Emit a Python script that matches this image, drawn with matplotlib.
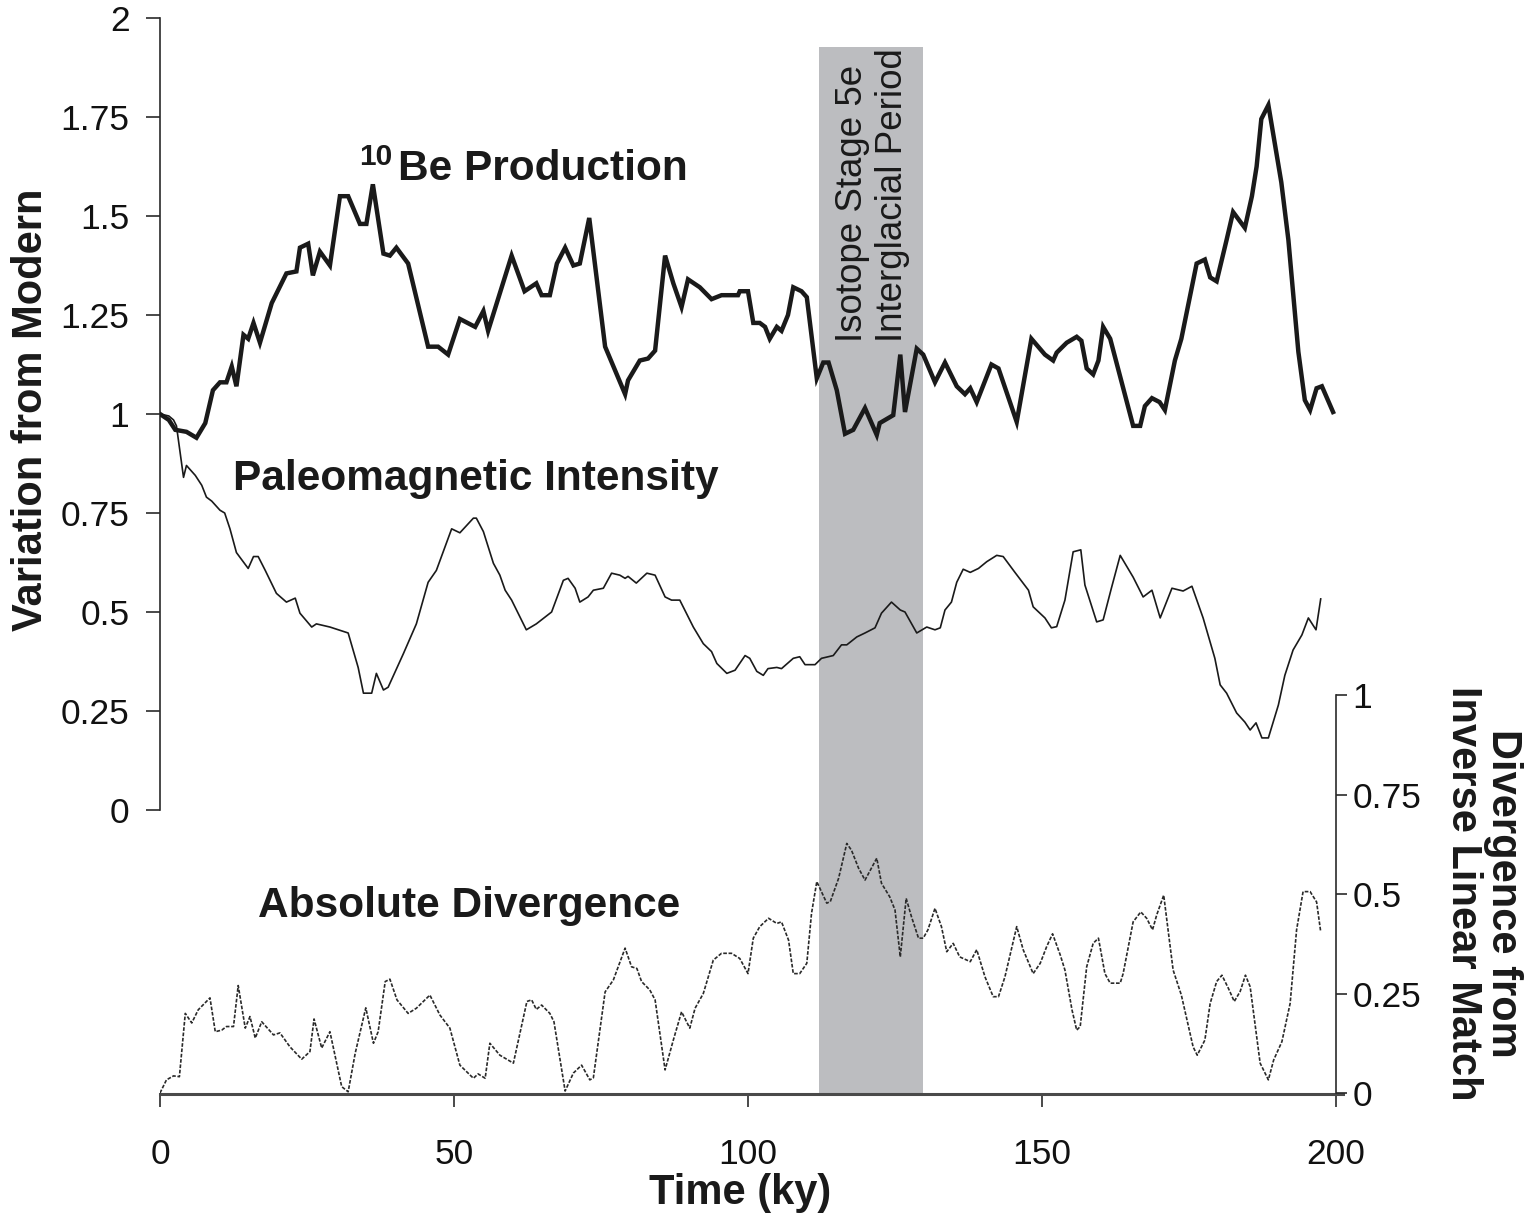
import matplotlib
matplotlib.use("Agg")
import matplotlib.pyplot as plt

plt.rcParams['font.family'] = ['Liberation Sans', 'DejaVu Sans']

# ---------------- data ----------------
be_time = [0, 1.5, 2.6, 4.5, 6.2, 7.7, 9.0, 10.2, 11.3, 12.2, 13.0, 14.2, 15.0, 15.9, 17.0,
           19.0, 21.5, 23.2, 23.8, 25.2, 26.0, 27.2, 28.9, 30.6, 32.0, 34.0, 35.1, 36.2,
           38.0, 39.1, 40.2, 42.2, 45.6, 47.3, 49.0, 51.0, 53.6, 55.0, 55.8, 59.8, 62.0,
           64.0, 64.9, 66.3, 67.5, 68.9, 70.3, 71.4, 73.0, 75.7, 79.1, 79.6, 81.6, 83.0,
           84.2, 85.9, 87.3, 88.7, 89.8, 91.8, 93.8, 95.5, 98.3, 98.6, 100.0, 100.9, 102.0,
           102.9, 103.7, 104.9, 105.7, 106.8, 107.7, 109.1, 110.0, 111.7, 112.8, 113.7,
           115.1, 116.5, 117.9, 119.9, 121.9, 122.4, 124.7, 125.9, 126.7, 128.7, 129.8,
           131.8, 133.5, 135.5, 136.9, 137.8, 138.9, 141.4, 142.6, 145.7, 148.2, 150.5,
           151.9, 152.5, 154.2, 155.9, 156.7, 157.6, 158.7, 159.6, 160.4, 161.6, 165.5,
           166.7, 167.5, 168.7, 170.0, 170.9, 172.6, 173.7, 176.3, 177.7, 178.6, 179.7,
           181.4, 182.5, 184.5, 185.7, 186.5, 187.3, 188.5, 190.7, 191.9, 193.6, 194.7,
           195.6, 196.7, 197.6, 199.5]
be_value = [1.00, 0.985, 0.96, 0.955, 0.94, 0.977, 1.06, 1.08, 1.08, 1.12, 1.07, 1.20, 1.19,
            1.23, 1.18, 1.28, 1.355, 1.36, 1.42, 1.43, 1.35, 1.41, 1.375, 1.55, 1.55, 1.48,
            1.48, 1.58, 1.405, 1.40, 1.42, 1.38, 1.17, 1.17, 1.15, 1.24, 1.22, 1.26, 1.21,
            1.40, 1.31, 1.33, 1.30, 1.30, 1.38, 1.42, 1.375, 1.38, 1.495, 1.17, 1.05, 1.085,
            1.135, 1.14, 1.16, 1.40, 1.33, 1.27, 1.34, 1.32, 1.29, 1.30, 1.30, 1.31, 1.31,
            1.23, 1.23, 1.22, 1.19, 1.22, 1.21, 1.25, 1.32, 1.31, 1.295, 1.09, 1.13, 1.13,
            1.06, 0.95, 0.96, 1.015, 0.947, 0.977, 0.997, 1.15, 1.005, 1.165, 1.15, 1.08,
            1.13, 1.07, 1.05, 1.065, 1.03, 1.125, 1.115, 0.98, 1.19, 1.15, 1.135, 1.155,
            1.18, 1.195, 1.185, 1.115, 1.10, 1.135, 1.22, 1.19, 0.97, 0.97, 1.02, 1.04,
            1.03, 1.01, 1.135, 1.19, 1.38, 1.39, 1.345, 1.335, 1.44, 1.51, 1.47, 1.55,
            1.625, 1.745, 1.78, 1.585, 1.44, 1.157, 1.035, 1.01, 1.065, 1.07, 1.005]

paleo_time = [0, 1.5, 2.3, 2.8, 4.0, 4.5, 6.0, 7.1, 7.9, 8.8, 10.2, 11.0, 11.9, 13.0, 15.0,
              15.9, 16.7, 17.9, 19.8, 21.5, 23.0, 23.8, 25.8, 26.6, 28.9, 32.0, 33.7, 34.6,
              36.0, 36.8, 38.0, 38.8, 41.4, 43.6, 45.6, 47.0, 49.6, 51.0, 53.3, 53.8, 55.0,
              56.7, 57.8, 58.7, 59.8, 62.3, 64.0, 66.6, 68.6, 69.4, 70.6, 71.4, 72.8, 73.7,
              75.4, 76.8, 78.2, 79.1, 79.6, 81.0, 82.8, 84.2, 85.9, 87.0, 88.4, 90.7, 92.4,
              93.8, 94.7, 96.4, 97.8, 99.5, 100.3, 101.5, 102.6, 103.4, 104.9, 105.7, 107.7,
              108.8, 109.7, 111.4, 112.5, 114.5, 115.9, 116.8, 118.5, 119.9, 121.6, 122.7,
              124.4, 125.9, 126.7, 128.7, 130.4, 131.8, 132.7, 133.5, 134.6, 135.5, 136.6,
              137.8, 139.2, 140.6, 142.3, 143.4, 145.4, 147.7, 148.5, 150.5, 151.6, 152.5,
              153.9, 155.3, 156.6, 157.3, 159.3, 160.4, 161.8, 163.3, 165.5, 167.2, 168.7,
              170.1, 172.1, 174.0, 175.5, 177.4, 179.4, 180.3, 181.4, 183.1, 184.5, 185.4,
              186.4, 187.4, 188.5, 190.2, 191.3, 192.7, 194.2, 195.3, 196.6, 197.4]
paleo_value = [1.0, 0.995, 0.985, 0.97, 0.84, 0.87, 0.845, 0.82, 0.79, 0.78, 0.757, 0.75,
               0.71, 0.65, 0.61, 0.64, 0.64, 0.605, 0.547, 0.525, 0.535, 0.497, 0.462, 0.47,
               0.462, 0.447, 0.36, 0.295, 0.295, 0.345, 0.303, 0.31, 0.395, 0.47, 0.575,
               0.605, 0.71, 0.70, 0.737, 0.737, 0.703, 0.623, 0.593, 0.555, 0.53, 0.455,
               0.47, 0.50, 0.58, 0.585, 0.56, 0.525, 0.538, 0.555, 0.56, 0.598, 0.593, 0.585,
               0.59, 0.573, 0.598, 0.593, 0.538, 0.53, 0.53, 0.462, 0.42, 0.40, 0.37, 0.345,
               0.353, 0.39, 0.383, 0.35, 0.34, 0.357, 0.36, 0.357, 0.383, 0.387, 0.367, 0.367,
               0.383, 0.39, 0.417, 0.417, 0.437, 0.447, 0.46, 0.497, 0.525, 0.505, 0.50,
               0.447, 0.462, 0.455, 0.46, 0.505, 0.525, 0.575, 0.608, 0.60, 0.61, 0.627,
               0.643, 0.64, 0.60, 0.555, 0.513, 0.485, 0.46, 0.463, 0.53, 0.652, 0.657, 0.568,
               0.475, 0.48, 0.56, 0.643, 0.588, 0.538, 0.555, 0.485, 0.56, 0.553, 0.565,
               0.485, 0.383, 0.316, 0.295, 0.245, 0.222, 0.202, 0.22, 0.182, 0.182, 0.265,
               0.34, 0.404, 0.442, 0.485, 0.455, 0.533]

div_time = [0, 1.1, 2.3, 3.3, 4.3, 5.4, 6.5, 8.5, 9.4, 10.5, 11.3, 12.5, 13.3, 14.5, 15.3,
            16.2, 17.3, 19.3, 20.4, 22.1, 24.1, 25.5, 26.2, 27.5, 28.9, 30.9, 32.0, 33.2,
            35.0, 36.3, 37.1, 38.3, 39.1, 40.3, 42.2, 43.6, 45.9, 47.6, 49.3, 51.0, 53.3,
            54.1, 55.3, 56.1, 57.8, 60.1, 62.4, 63.2, 64.0, 64.9, 66.3, 67.0, 68.9, 70.3,
            71.7, 73.1, 73.7, 75.7, 77.1, 79.1, 80.2, 81.1, 81.9, 83.3, 84.2, 85.9, 87.3,
            88.7, 90.1, 91.0, 92.4, 94.1, 95.5, 97.2, 98.6, 100.0, 100.9, 102.0, 103.5,
            104.9, 105.7, 106.9, 107.7, 108.8, 110.0, 110.8, 111.7, 113.4, 114.0, 115.4,
            116.8, 117.6, 118.8, 119.9, 121.9, 122.7, 124.1, 125.0, 125.9, 126.9, 127.8,
            129.0, 129.8, 130.6, 131.8, 132.9, 133.8, 134.9, 136.0, 137.8, 138.9, 140.3,
            141.7, 142.6, 143.7, 145.7, 146.8, 148.5, 149.7, 150.8, 151.8, 153.1, 153.9,
            155.1, 155.9, 156.5, 157.6, 158.7, 159.6, 160.7, 161.6, 163.3, 163.8, 165.5,
            166.8, 167.8, 168.8, 169.5, 170.7, 172.3, 173.7, 175.7, 176.4, 177.7, 178.6,
            179.7, 180.6, 181.7, 182.7, 183.7, 184.6, 185.4, 187.1, 188.5, 189.4, 190.8,
            192.2, 193.3, 194.4, 195.6, 196.7, 197.4]
div_value = [0.0, 0.033, 0.043, 0.041, 0.20, 0.176, 0.209, 0.239, 0.154, 0.158, 0.167, 0.167,
             0.27, 0.163, 0.192, 0.138, 0.179, 0.146, 0.151, 0.116, 0.085, 0.104, 0.186,
             0.113, 0.154, 0.016, 0.003, 0.10, 0.214, 0.125, 0.154, 0.28, 0.286, 0.234, 0.20,
             0.213, 0.246, 0.196, 0.163, 0.07, 0.037, 0.048, 0.037, 0.125, 0.095, 0.075,
             0.23, 0.234, 0.21, 0.221, 0.20, 0.179, 0.005, 0.05, 0.07, 0.033, 0.038, 0.254,
             0.284, 0.364, 0.317, 0.313, 0.28, 0.259, 0.234, 0.058, 0.133, 0.204, 0.163,
             0.213, 0.25, 0.334, 0.351, 0.351, 0.338, 0.30, 0.389, 0.418, 0.439, 0.426, 0.43,
             0.384, 0.30, 0.30, 0.326, 0.451, 0.531, 0.477, 0.481, 0.539, 0.627, 0.61, 0.565,
             0.535, 0.59, 0.527, 0.493, 0.46, 0.342, 0.489, 0.443, 0.389, 0.389, 0.41, 0.464,
             0.418, 0.355, 0.376, 0.342, 0.33, 0.36, 0.292, 0.242, 0.242, 0.292, 0.418, 0.36,
             0.30, 0.326, 0.368, 0.40, 0.347, 0.309, 0.209, 0.158, 0.167, 0.317, 0.376,
             0.389, 0.30, 0.276, 0.276, 0.30, 0.43, 0.455, 0.439, 0.41, 0.447, 0.497, 0.309,
             0.246, 0.116, 0.095, 0.133, 0.225, 0.28, 0.296, 0.263, 0.23, 0.255, 0.296,
             0.267, 0.075, 0.033, 0.083, 0.129, 0.225, 0.41, 0.506, 0.506, 0.48, 0.405]

band_start, band_end, band_top = 112.0, 129.8, 1.927

x_ticks = [0, 50, 100, 150, 200]
x_ticklabels = ["0", "50", "100", "150", "200"]
left_ticks = [0, 0.25, 0.5, 0.75, 1, 1.25, 1.5, 1.75, 2]
left_ticklabels = ["0", "0.25", "0.5", "0.75", "1", "1.25", "1.5", "1.75", "2"]
right_ticks = [0, 0.25, 0.5, 0.75, 1]
right_ticklabels = ["0", "0.25", "0.5", "0.75", "1"]

# ---------------- figure ----------------
fig = plt.figure(figsize=(15.33, 12.17), dpi=100)
pos = [0.10437, 0.10107, 0.76712, 0.88414]
ax = fig.add_axes(pos)
ax.set_xlim(0, 200)
ax.set_ylim(-0.7172, 2.0)

ax2 = ax.twinx()
ax2.set_position(pos)
ax2.set_ylim(-0.0025, 2.701)

spine_col = '#2a2a2a'
# band
ymax_frac = (band_top - (-0.7172)) / (2.0 - (-0.7172))
ax.axvspan(band_start, band_end, ymin=0, ymax=ymax_frac, color='#bcbdc0', lw=0, zorder=0)

ax.plot(be_time, be_value, color='#1a1a1a', lw=3.2, solid_joinstyle='miter', zorder=3)
ax.plot(paleo_time, paleo_value, color='#1a1a1a', lw=1.2, zorder=3)
ax2.plot(div_time, div_value, color='#2a2a2a', lw=1.2, linestyle=(0, (2.2, 1.0)), zorder=3)

# spines
for s in ['top', 'right']:
    ax.spines[s].set_visible(False)
ax.spines['left'].set_bounds(0, 2)
ax.spines['left'].set_color(spine_col)
ax.spines['left'].set_linewidth(1.2)
ax.spines['bottom'].set_color('#4a4a4a')
ax.spines['bottom'].set_linewidth(2.2)
ax.spines['bottom'].set_bounds(0, 201.2)

for s in ['top', 'left', 'bottom']:
    ax2.spines[s].set_visible(False)
ax2.spines['right'].set_bounds(0, 1)
ax2.spines['right'].set_color(spine_col)
ax2.spines['right'].set_linewidth(1.2)

ax.set_xticks(x_ticks)
ax.set_xticklabels(x_ticklabels)
ax.set_yticks(left_ticks)
ax.set_yticklabels(left_ticklabels)
ax2.set_yticks(right_ticks)
ax2.set_yticklabels(right_ticklabels)

ax.tick_params(axis='x', direction='out', length=9.5, width=1.2, color=spine_col,
               pad=22, labelsize=25.5, labelcolor='#111111')
ax.tick_params(axis='y', direction='out', length=10, width=1.2, color=spine_col,
               pad=12, labelsize=25.5, labelcolor='#111111')
ax2.tick_params(axis='y', direction='out', length=8, width=1.2, color=spine_col,
                pad=4, labelsize=25.5, labelcolor='#111111')

# annotations
ax.text(33.8, 1.629, "10", fontsize=21.5, fontweight='bold', color='#1a1a1a', ha='left', va='baseline')
ax.text(40.5, 1.591, "Be Production", fontsize=30.5, fontweight='bold', color='#1a1a1a',
        ha='left', va='baseline')
ax.text(12.4, 0.808, "Paleomagnetic Intensity", fontsize=30.5, fontweight='bold',
        color='#1a1a1a', ha='left', va='baseline')
ax.text(16.7, -0.270, "Absolute Divergence", fontsize=30.5, fontweight='bold',
        color='#1a1a1a', ha='left', va='baseline')
ax.text(119.4, 1.182, "Isotope Stage 5e", fontsize=26.5, rotation=90, rotation_mode='anchor',
        ha='left', va='baseline', color='#1a1a1a', zorder=4)
ax.text(126.2, 1.182, "Interglacial Period", fontsize=26.5, rotation=90, rotation_mode='anchor',
        ha='left', va='baseline', color='#1a1a1a', zorder=4)

fig.text(31 / 1533, 1 - 410 / 1217, "Variation from Modern", rotation=90, fontsize=30,
         fontweight='bold', ha='center', va='center', color='#1a1a1a')
fig.text(1483 / 1533, 1 - 893 / 1217, "Divergence from\nInverse Linear Match", rotation=270,
         fontsize=30, fontweight='bold', ha='center', va='center', multialignment='center',
         linespacing=1.0, color='#1a1a1a')
fig.text(740 / 1533, 1 - 1193 / 1217, "Time (ky)", fontsize=30, fontweight='bold',
         ha='center', va='center', color='#1a1a1a')

fig.savefig("out.png", dpi=100)
